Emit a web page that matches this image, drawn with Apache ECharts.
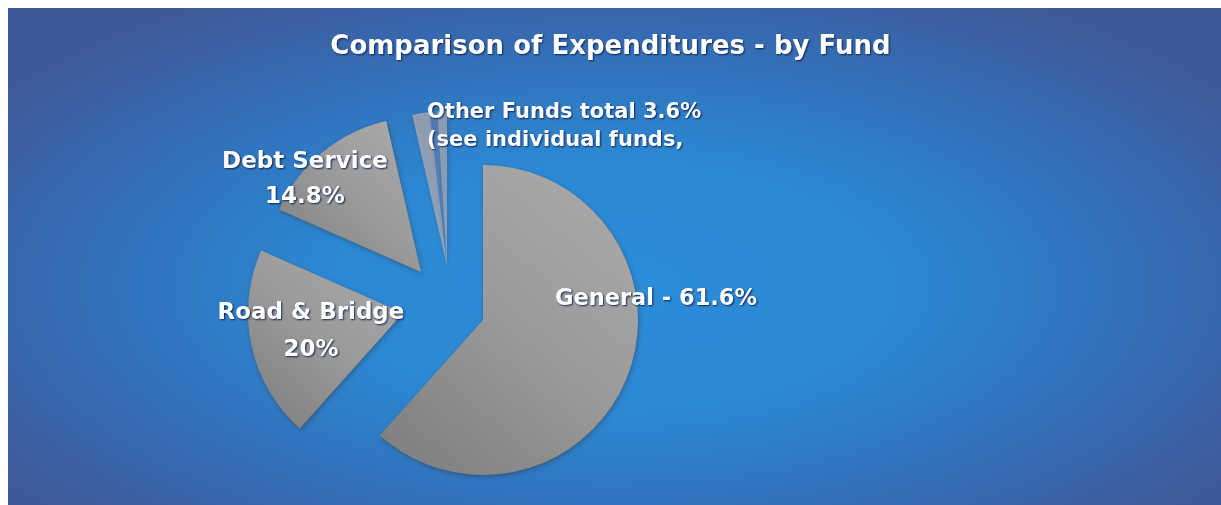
<!DOCTYPE html>
<html><head><meta charset="utf-8">
<script src="https://cdn.jsdelivr.net/npm/echarts@6/dist/echarts.min.js"></script>
<style>
html,body{margin:0;padding:0;background:#fff;width:1221px;height:505px;overflow:hidden}
#bg{position:absolute;left:8px;top:8px;width:1213px;height:497px;
background: radial-gradient(ellipse 62% 68% at 50% 56%, #2a8cd9 0%, #2c88d4 38%, #3174bd 64%, #3a62a6 86%, #3e5a98 100%);}
#chart{position:absolute;left:0;top:0;width:1221px;height:505px}
</style></head>
<body>
<div id="bg"></div>
<div id="chart"></div>
<script>
// ---- data ----
const categories = ['General', 'Road & Bridge', 'Debt Service', 'Other Funds (a)', 'Other Funds (b)', 'Other Funds (c)'];
const values = [61.6, 20, 14.8, 1.8, 0.8, 1.0];
const labelTexts = ['General - 61.6%', 'Road & Bridge\n20%', 'Debt Service\n14.8%', 'Other Funds total 3.6%\n(see individual funds,', '', ''];
const titleText = 'Comparison of Expenditures - by Fund';

// ---- layout (exploded pieces: which slices, where their pie centre sits) ----
const pieces = [
  { slices: [0], center: [483, 320] },
  { slices: [1], center: [403, 313] },
  { slices: [2], center: [421, 272] },
  { slices: [3, 4, 5], center: [447, 266] }
];
const labelPos = [
  [555, 299, 'left', 22.5, 26],
  [311, 332, 'center', 23, 37],
  [305, 180, 'center', 23, 35],
  [427, 127, 'left', 21, 28],
  null, null
];
const FONT = '"DejaVu Sans", "Liberation Sans", Arial, sans-serif';

const grayFill = {
  type: 'linear', x: 1, y: 0, x2: 0, y2: 1,
  colorStops: [{ offset: 0, color: '#acacac' }, { offset: 0.5, color: '#9a9a9a' }, { offset: 1, color: '#7c7c7c' }]
};
const sliverFill = ['rgba(175,175,185,0.75)', 'rgba(140,150,190,0.35)', 'rgba(175,175,185,0.7)'];

const chart = echarts.init(document.getElementById('chart'), null, { renderer: 'canvas' });

const series = pieces.map(function (piece) {
  return {
    type: 'pie',
    center: piece.center,
    radius: 155,
    startAngle: 90,
    clockwise: true,
    silent: true,
    animation: false,
    avoidLabelOverlap: false,
    labelLine: { show: false },
    data: categories.map(function (name, i) {
      const visible = piece.slices.indexOf(i) >= 0;
      let color = 'rgba(0,0,0,0)';
      if (visible) color = i >= 3 ? sliverFill[i - 3] : grayFill;
      const lp = labelPos[i];
      return {
        name: name,
        value: values[i],
        itemStyle: visible ? {
          color: color,
          shadowColor: 'rgba(60,30,10,0.35)', shadowBlur: 5, shadowOffsetX: 1, shadowOffsetY: 2
        } : { color: 'rgba(0,0,0,0)' },
        label: {
          show: visible && !!labelTexts[i],
          position: 'inside',
          formatter: labelTexts[i],
          color: '#ffffff',
          fontFamily: FONT,
          fontWeight: 'bold',
          fontSize: lp ? lp[3] : 20,
          lineHeight: lp ? lp[4] : 24,
          align: lp ? lp[2] : 'center',
          textShadowColor: 'rgba(10,25,70,0.9)',
          textShadowBlur: 2,
          textShadowOffsetX: 1,
          textShadowOffsetY: 1
        }
      };
    }),
    labelLayout: function (p) {
      const lp = labelPos[p.dataIndex];
      if (!lp) return {};
      return { x: lp[0], y: lp[1], align: lp[2], verticalAlign: 'middle' };
    }
  };
});

chart.setOption({
  backgroundColor: 'transparent',
  title: {
    text: titleText,
    left: 'center',
    top: 34,
    padding: 0,
    textStyle: {
      color: '#ffffff',
      fontFamily: FONT,
      fontWeight: 'bold',
      fontSize: 26,
      textShadowColor: 'rgba(10,25,70,0.9)',
      textShadowBlur: 2,
      textShadowOffsetX: 1,
      textShadowOffsetY: 1
    }
  },
  series: series
});
</script>
</body></html>
